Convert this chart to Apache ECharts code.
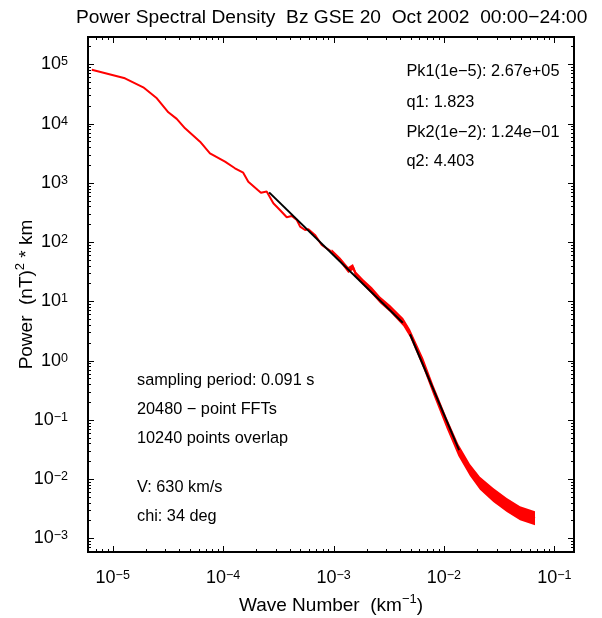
<!DOCTYPE html>
<html><head><meta charset="utf-8">
<script src="https://cdn.jsdelivr.net/npm/echarts@6/dist/echarts.min.js"></script>
<style>html,body{margin:0;padding:0;background:#fff}#c{width:602px;height:618px}</style>
</head><body><div id="c"></div>
<script>
// ---- data ----
const titleText = 'Power Spectral Density  Bz GSE 20  Oct 2002  00:00\u221224:00';
const xAxisName = ['Wave Number  (km', '\u22121', ')'];
const yAxisName = ['Power  (nT)', '2', ' * km'];

const waveNumber = [6.46e-6, 1.29e-5, 1.89e-5, 2.51e-5, 3.19e-5, 3.80e-5, 4.52e-5, 6.18e-5, 7.60e-5,
  1.04e-4, 1.28e-4, 1.52e-4, 1.69e-4, 2.06e-4, 2.20e-4, 2.48e-4, 2.85e-4, 3.27e-4, 3.77e-4,
  4.18e-4, 4.65e-4, 4.98e-4, 5.52e-4, 5.92e-4, 6.79e-4, 7.82e-4, 8.67e-4, 9.64e-4, 1.15e-3,
  1.36e-3, 1.50e-3, 1.60e-3, 1.86e-3, 2.23e-3, 2.64e-3, 3.25e-3, 4.29e-3, 4.93e-3, 6.50e-3,
  8.02e-3, 1.06e-2, 1.35e-2, 1.72e-2, 2.12e-2, 2.80e-2, 3.71e-2, 4.89e-2, 6.68e-2];
const power = [8.11e4, 5.81e4, 4.09e4, 2.67e4, 1.55e4, 1.20e4, 8.30e3, 4.94e3, 3.15e3,
  2.27e3, 1.76e3, 1.48e3, 1.04e3, 755, 681, 713, 451, 348, 262,
  275, 236, 182, 160, 164, 132, 89.1, 78.3, 68.7, 49.8,
  33.7, 37.9, 28.0, 21.0, 15.0, 10.6, 7.6, 4.45, 2.88, 0.900,
  0.318, 0.0873, 0.0309, 0.0142, 8.47e-3, 5.38e-3, 3.65e-3, 2.64e-3, 2.18e-3];

// spread of the noisy high wave-number part
const bandWaveNumber = [9.64e-4, 1.15e-3, 1.36e-3, 1.50e-3, 1.60e-3, 1.86e-3, 2.23e-3, 2.64e-3, 3.25e-3, 4.29e-3,
  4.93e-3, 6.50e-3, 8.02e-3, 1.06e-2, 1.35e-2, 1.72e-2, 2.12e-2, 2.80e-2, 3.71e-2, 4.89e-2, 6.68e-2];
const bandHigh = [75.7, 54.9, 37.9, 42.6, 31.5, 23.6, 17.2, 12.1, 8.7, 5.2,
  3.36, 1.09, 0.386, 0.108, 0.0390, 0.0179, 1.09e-2, 7.06e-3, 4.79e-3, 3.47e-3, 2.86e-3];
const bandLow = [62.3, 45.2, 30.0, 33.7, 24.9, 18.7, 13.1, 9.25, 6.6, 3.8,
  2.47, 0.741, 0.262, 0.0705, 0.0245, 0.0113, 6.58e-3, 4.10e-3, 2.78e-3, 2.01e-3, 1.66e-3];

const fit1WaveNumber = [2.61e-4, 4.24e-3];
const fit1Power = [690, 4.33];
const fit2WaveNumber = [4.93e-3, 1.371e-2];
const fit2Power = [2.78, 0.0309];

const xMajorTicks = [1e-5, 1e-4, 1e-3, 1e-2, 1e-1];
const yMajorTicks = [1e-3, 1e-2, 1e-1, 1, 1e1, 1e2, 1e3, 1e4, 1e5];
const minorMultipliers = [2, 3, 4, 5, 6, 7, 8, 9];

const fitNotes = ['Pk1(1e\u22125): 2.67e+05', 'q1: 1.823', 'Pk2(1e\u22122): 1.24e\u221201', 'q2: 4.403'];
const infoNotes = ['sampling period: 0.091 s', '20480 \u2212 point FFTs', '10240 points overlap', 'V: 630 km/s', 'chi: 34 deg'];

// ---- layout ----
const X_MIN = 5.97e-6, X_MAX = 0.1507, Y_MIN = 5.87e-4, Y_MAX = 2.89e5;
const FONT = '"Liberation Sans", Arial, Helvetica, sans-serif';

function minorList(majors, lo, hi) {
  const out = [];
  const decades = [majors[0] / 10].concat(majors);
  decades.forEach(d => minorMultipliers.forEach(m => { const v = d * m; if (v > lo && v < hi) out.push(v); }));
  return out;
}
const xMinor = minorList(xMajorTicks, X_MIN, X_MAX);
const yMinor = minorList(yMajorTicks, Y_MIN, Y_MAX);

function expLabel(v) {
  const e = Math.log10(v), r = Math.round(e);
  if (Math.abs(e - r) > 1e-6) return '';
  const s = r < 0 ? '\u2212' + (-r) : String(r);
  return '{b|10}{s|' + s + '}';
}
const labelRich = {
  b: { fontSize: 18, lineHeight: 18, fontFamily: FONT, color: '#000', padding: [6, 0, 6, 0] },
  s: { fontSize: 12.5, lineHeight: 12, fontFamily: FONT, color: '#000', verticalAlign: 'top' }
};
const nameRich = {
  n: { fontSize: 19, lineHeight: 19, fontFamily: FONT, color: '#000', padding: [6, 0, 0, 0] },
  s: { fontSize: 13, lineHeight: 13, fontFamily: FONT, color: '#000', verticalAlign: 'top' }
};

const chart = echarts.init(document.getElementById('c'), null, { renderer: 'canvas' });

const tickSeries = {
  type: 'custom', silent: true, z: 5, data: [[1e-3, 1]],
  renderItem: function (params, api) {
    const cs = params.coordSys;
    const left = cs.x, top = cs.y, right = cs.x + cs.width, bottom = cs.y + cs.height;
    const children = [];
    const st = { stroke: '#000', lineWidth: 1 };
    function xt(v, len) {
      const px = Math.round(api.coord([v, 1])[0]) + 0.5;
      children.push({ type: 'line', shape: { x1: px, y1: bottom, x2: px, y2: bottom - len }, style: st });
      children.push({ type: 'line', shape: { x1: px, y1: top, x2: px, y2: top + len }, style: st });
    }
    function yt(v, len) {
      const py = Math.round(api.coord([1e-3, v])[1]) + 0.5;
      children.push({ type: 'line', shape: { x1: left, y1: py, x2: left + len, y2: py }, style: st });
      children.push({ type: 'line', shape: { x1: right, y1: py, x2: right - len, y2: py }, style: st });
    }
    xMajorTicks.forEach(v => xt(v, 6));
    xMinor.forEach(v => xt(v, 3));
    yMajorTicks.forEach(v => yt(v, 6));
    yMinor.forEach(v => yt(v, 3));
    return { type: 'group', children: children };
  }
};

const bandSeries = {
  type: 'custom', silent: true, z: 2, data: [[1e-3, 1]],
  renderItem: function (params, api) {
    const pts = [];
    for (let i = 0; i < bandWaveNumber.length; i++) pts.push(api.coord([bandWaveNumber[i], bandHigh[i]]));
    for (let i = bandWaveNumber.length - 1; i >= 0; i--) pts.push(api.coord([bandWaveNumber[i], bandLow[i]]));
    return { type: 'polygon', shape: { points: pts }, style: { fill: '#ff0000' } };
  }
};

const option = {
  animation: false,
  backgroundColor: '#ffffff',
  title: {
    text: titleText, left: 76, top: 8, padding: 0,
    textStyle: { fontSize: 19.2, lineHeight: 19, fontWeight: 'normal', color: '#000', fontFamily: FONT }
  },
  grid: { left: 88, top: 37, right: 28, bottom: 66, show: true, borderColor: '#000', borderWidth: 2,
    backgroundColor: 'transparent', containLabel: false, outerBoundsMode: 'none' },
  xAxis: {
    type: 'log', logBase: 10, min: X_MIN, max: X_MAX, splitNumber: 5,
    axisLine: { show: false }, axisTick: { show: false }, splitLine: { show: false },
    axisLabel: { formatter: expLabel, margin: 17, rich: labelRich },
    name: '{n|' + xAxisName[0] + '}{s|' + xAxisName[1] + '}{n|' + xAxisName[2] + '}',
    nameLocation: 'middle', nameGap: 41, nameMoveOverlap: false, nameTextStyle: { rich: nameRich }
  },
  yAxis: {
    type: 'log', logBase: 10, min: Y_MIN, max: Y_MAX, splitNumber: 10,
    axisLine: { show: false }, axisTick: { show: false }, splitLine: { show: false },
    axisLabel: { formatter: expLabel, margin: 20, rich: labelRich },
    name: '{n|' + yAxisName[0] + '}{s|' + yAxisName[1] + '}{n|' + yAxisName[2] + '}',
    nameLocation: 'middle', nameGap: 55, nameMoveOverlap: false, nameTextStyle: { rich: nameRich }
  },
  series: [
    {
      type: 'line', name: 'PSD', z: 3, showSymbol: false, symbol: 'none',
      data: waveNumber.map((k, i) => [k, power[i]]),
      lineStyle: { color: '#ff0000', width: 2 }
    },
    bandSeries,
    {
      type: 'line', name: 'fit1', z: 4, showSymbol: false, symbol: 'none',
      data: fit1WaveNumber.map((k, i) => [k, fit1Power[i]]),
      lineStyle: { color: '#000', width: 2 }
    },
    {
      type: 'line', name: 'fit2', z: 4, showSymbol: false, symbol: 'none',
      data: fit2WaveNumber.map((k, i) => [k, fit2Power[i]]),
      lineStyle: { color: '#000', width: 2 }
    },
    tickSeries
  ],
  graphic: [].concat(
    fitNotes.map((t, i) => ({
      type: 'text', x: 406.5, y: [72, 102.5, 133, 162][i],
      style: { text: t, fontSize: 16.3, fontFamily: FONT, fill: '#000', verticalAlign: 'middle', align: 'left' }
    })),
    infoNotes.map((t, i) => ({
      type: 'text', x: 137, y: [381, 410, 439, 488, 517][i],
      style: { text: t, fontSize: 16.3, fontFamily: FONT, fill: '#000', verticalAlign: 'middle', align: 'left' }
    }))
  )
};
chart.setOption(option);
</script>
</body></html>
